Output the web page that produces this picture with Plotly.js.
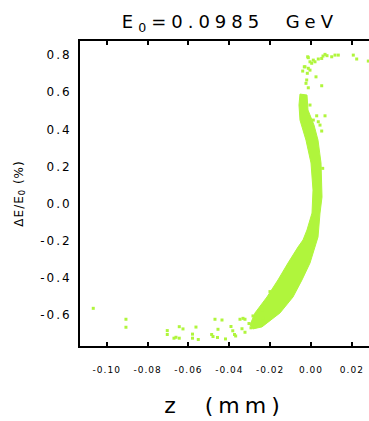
<!DOCTYPE html>
<html>
<head>
<meta charset="utf-8">
<script src="https://cdn.plot.ly/plotly-3.0.1.min.js"></script>
<style>
  html, body { margin: 0; padding: 0; background: #fff; }
  #chart { width: 369px; height: 421px; }
  .gtitle { letter-spacing: 5px; }
  .xtitle { letter-spacing: 5px; }
  .ytitle { letter-spacing: 1px; }
  .xtick text { letter-spacing: 1px; }
  .ytick text { letter-spacing: 2px; }
</style>
</head>
<body>
<div id="chart"></div>
<script>
// Dense core of the distribution: outline (z in mm, dE/E0 in %)
const bandZ = [-0.00539, -0.00588, -0.00539, -0.00392, -0.00245, 0.0, 0.00098, 0.00049, -0.00196, -0.00392,
  -0.00637, -0.01126, -0.01616, -0.02155, -0.02742, -0.02987, -0.02840, -0.02400,
  -0.02106, -0.01518, -0.00881, -0.00441, -0.00049, 0.00196, 0.00343, 0.00441, 0.00539, 0.00490, 0.00343,
  0.00147, -0.00147, -0.00196, -0.00539];
const bandE = [0.590, 0.531, 0.450, 0.396, 0.342, 0.219, 0.073, -0.051, -0.142, -0.196,
  -0.234, -0.320, -0.411, -0.503, -0.589, -0.654, -0.675, -0.664,
  -0.638, -0.589, -0.503, -0.411, -0.320, -0.234, -0.180, -0.051, 0.036, 0.219, 0.342,
  0.423, 0.504, 0.585, 0.590];

// Sparse halo particles (upper tail)
const headZ = [0.00686, 0.00588, 0.00784, 0.01014, 0.01175, 0.01337, 0.02071, 0.02238, 0.02806, 0.00357,
  0.00524, 0.00113, 0.00196, -0.00132, -0.00049, 0.00034, -0.00294, -0.00132, -0.00049, -0.00406,
  -0.00181, 0.00245, -0.00211, -0.00245, -0.00132, 0.00524, -0.00049, 0.00279, 0.00686, 0.00113,
  0.00357, 0.00441, 0.00524, 0.00573, -0.00162, -0.00328];
const headE = [0.804, 0.795, 0.797, 0.791, 0.800, 0.800, 0.800, 0.779, 0.768, 0.779,
  0.782, 0.773, 0.764, 0.786, 0.764, 0.756, 0.737, 0.729, 0.719, 0.714,
  0.702, 0.683, 0.666, 0.648, 0.624, 0.635, 0.531, 0.473, 0.473, 0.450,
  0.441, 0.423, 0.391, 0.190, 0.791, 0.737];

// Sparse halo particles (lower tail)
const tailZ = [-0.10661, -0.09060, -0.09060, -0.07037, -0.07037, -0.06709, -0.06611, -0.06450, -0.06268, -0.06450,
  -0.05803, -0.05803, -0.05632, -0.05519, -0.04863, -0.04799, -0.04701, -0.04579, -0.04554, -0.04358,
  -0.04187, -0.03918, -0.03830, -0.03746, -0.03688, -0.03477, -0.03330, -0.03232, -0.03379, -0.03232,
  -0.03036, -0.02938, -0.02840, -0.02414, -0.02580, -0.02336, -0.02743, -0.02008];
const tailE = [-0.564, -0.623, -0.666, -0.684, -0.705, -0.725, -0.720, -0.663, -0.675, -0.725,
  -0.703, -0.725, -0.665, -0.732, -0.705, -0.716, -0.623, -0.721, -0.677, -0.627,
  -0.729, -0.662, -0.685, -0.705, -0.713, -0.623, -0.618, -0.623, -0.674, -0.693,
  -0.646, -0.669, -0.605, -0.573, -0.600, -0.618, -0.623, -0.474];

const xTickVals = [-0.10, -0.08, -0.06, -0.04, -0.02, 0.00, 0.02];
const xTickText = ['-0.10', '-0.08', '-0.06', '-0.04', '-0.02', '0.00', '0.02'];
const yTickVals = [-0.6, -0.4, -0.2, 0.0, 0.2, 0.4, 0.6, 0.8];
const yTickText = ['-0.6', '-0.4', '-0.2', '0.0', '0.2', '0.4', '0.6', '0.8'];

const green = '#b0f53c';

const traces = [
  { type: 'scatter', mode: 'lines', x: bandZ, y: bandE, fill: 'toself', fillcolor: green,
    line: { color: green, width: 1 }, hoverinfo: 'skip', showlegend: false },
  { type: 'scatter', mode: 'markers', x: headZ.concat(tailZ), y: headE.concat(tailE),
    marker: { color: green, size: 3, symbol: 'square', line: { width: 0 } }, showlegend: false }
];

const layout = {
  width: 369, height: 421,
  margin: { l: 80, r: 0, t: 41, b: 75, pad: 0 },
  paper_bgcolor: '#fff', plot_bgcolor: '#fff',
  font: { family: 'DejaVu Sans, sans-serif', color: '#000' },
  showlegend: false,
  title: { text: 'E<sub>0</sub>=0.0985&nbsp;&nbsp;GeV', font: { size: 18, color: '#000' },
    x: 0.623, xref: 'container', xanchor: 'center', y: 0.949, yref: 'container', yanchor: 'middle' },
  xaxis: {
    range: [-0.1131, 0.0284], showgrid: false, zeroline: false,
    showline: true, linecolor: '#000', linewidth: 2, mirror: 'ticks',
    ticks: 'inside', ticklen: 4, tickwidth: 2, tickcolor: '#000',
    tickmode: 'array', tickvals: xTickVals, ticktext: xTickText,
    tickfont: { size: 9, color: '#000' }, ticklabelstandoff: 14,
    title: { text: 'z&nbsp;&nbsp;(mm)', font: { size: 22, color: '#000' }, standoff: 24 }
  },
  yaxis: {
    range: [-0.767, 0.876], showgrid: false, zeroline: false,
    showline: true, linecolor: '#000', linewidth: 2, mirror: false,
    ticks: '', tickmode: 'array', tickvals: yTickVals, ticktext: yTickText,
    tickfont: { size: 12, color: '#000' }, ticklabelstandoff: 4,
    title: { text: 'ΔE/E<sub>0</sub> (%)', font: { size: 12, color: '#000' }, standoff: 14 }
  }
};

Plotly.newPlot('chart', traces, layout, { displayModeBar: false, staticPlot: true });
</script>
</body>
</html>
